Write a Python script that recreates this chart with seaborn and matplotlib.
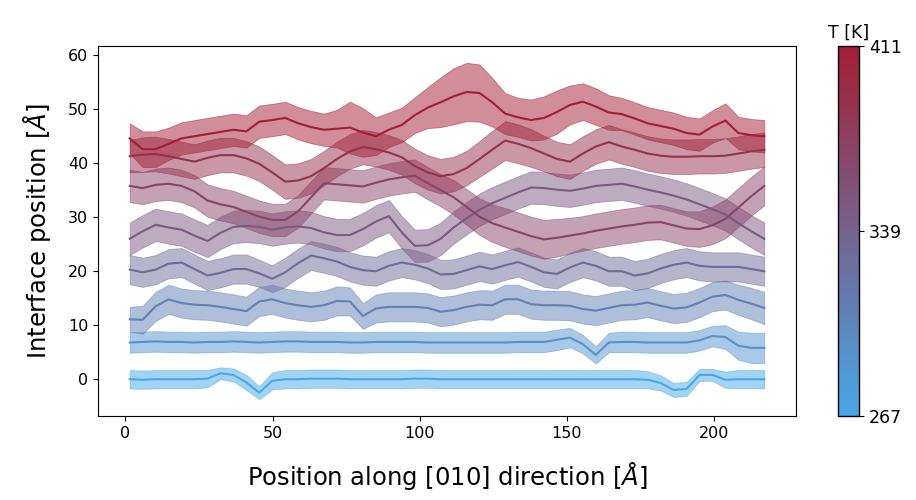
import numpy as np
import matplotlib
matplotlib.use("Agg")
import matplotlib.pyplot as plt
from matplotlib.colors import LinearSegmentedColormap, Normalize
from matplotlib.cm import ScalarMappable
import seaborn as sns

# ---------------- data ----------------
x_pos = [1.5, 5.9, 10.3, 14.7, 19.1, 23.5, 27.9, 32.3, 36.7, 41.1,
         45.5, 49.9, 54.3, 58.7, 63.1, 67.5, 71.9, 76.3, 80.7, 85.1,
         89.5, 93.9, 98.3, 102.7, 107.1, 111.5, 115.9, 120.3, 124.6, 129.0,
         133.4, 137.8, 142.2, 146.6, 151.0, 155.4, 159.8, 164.2, 168.6, 173.0,
         177.4, 181.8, 186.2, 190.6, 195.0, 199.4, 203.8, 208.2, 212.6, 217.0]

temperatures = [267, 288, 308, 329, 349, 370, 390, 411]

pos_267 = [0.0, -0.1, 0.0, 0.0, 0.0, 0.0, 0.1, 1.1, 0.8, -0.6,
           -2.5, -0.3, 0.0, 0.0, 0.1, 0.1, 0.1, 0.0, 0.0, 0.0,
           0.0, 0.0, 0.1, 0.1, 0.0, 0.0, 0.0, 0.0, 0.0, 0.0,
           0.0, 0.0, 0.0, 0.0, 0.0, 0.0, 0.0, 0.0, 0.0, 0.0,
           -0.1, -0.7, -2.0, -1.8, 0.8, 0.8, -0.1, 0.0, 0.0, 0.0]
sd_267 = [1.7, 1.7, 1.7, 1.7, 1.7, 1.7, 1.6, 1.1, 1.2, 1.4,
          1.2, 1.6, 1.7, 1.7, 1.7, 1.7, 1.7, 1.7, 1.7, 1.7,
          1.7, 1.7, 1.7, 1.7, 1.7, 1.7, 1.7, 1.7, 1.7, 1.7,
          1.7, 1.7, 1.7, 1.7, 1.7, 1.7, 1.7, 1.7, 1.7, 1.7,
          1.6, 1.4, 1.3, 1.3, 1.1, 1.1, 1.5, 1.7, 1.7, 1.7]

pos_288 = [6.8, 6.9, 7.0, 6.9, 6.9, 6.8, 6.9, 6.9, 7.0, 6.9,
           6.8, 6.9, 7.0, 7.0, 6.9, 6.9, 6.9, 6.8, 6.8, 6.9,
           6.9, 6.9, 6.9, 6.8, 6.8, 6.8, 6.8, 6.8, 6.8, 6.8,
           6.9, 6.9, 6.9, 7.3, 7.7, 6.5, 4.5, 6.8, 6.9, 6.9,
           6.8, 6.8, 6.8, 6.8, 7.2, 8.0, 7.8, 6.2, 5.8, 5.8]
sd_288 = [1.9, 1.9, 1.9, 1.9, 1.9, 1.9, 1.9, 1.9, 1.9, 1.9,
          1.9, 1.9, 1.9, 1.9, 1.9, 1.9, 1.9, 1.9, 1.9, 1.9,
          1.9, 1.9, 1.9, 1.9, 1.9, 1.9, 1.9, 1.9, 1.9, 1.9,
          1.9, 1.9, 1.9, 1.9, 1.8, 1.7, 1.6, 1.8, 1.9, 1.9,
          1.9, 1.9, 1.9, 1.9, 1.9, 1.9, 2.2, 2.6, 2.8, 2.8]

pos_308 = [11.1, 11.0, 13.5, 14.8, 14.1, 13.8, 13.7, 13.4, 13.0, 12.6,
           14.4, 14.8, 14.1, 13.7, 13.4, 13.7, 14.5, 14.4, 11.7, 13.1,
           13.4, 13.4, 13.4, 13.2, 12.5, 12.8, 13.4, 13.8, 13.7, 14.8,
           14.8, 13.9, 13.7, 13.7, 13.6, 13.0, 12.7, 13.2, 13.7, 13.8,
           14.2, 13.6, 13.1, 13.3, 14.2, 15.3, 15.6, 14.7, 14.0, 13.2]
sd_308 = [2.3, 2.6, 2.7, 2.7, 2.7, 2.7, 2.7, 2.7, 2.7, 2.7,
          2.7, 2.7, 2.7, 2.7, 2.7, 2.7, 2.7, 2.6, 2.4, 2.6,
          2.7, 2.7, 2.7, 2.7, 2.7, 2.7, 2.7, 2.7, 2.7, 2.7,
          2.7, 2.7, 2.7, 2.7, 2.7, 2.7, 2.7, 2.7, 2.7, 2.7,
          2.7, 2.7, 2.7, 2.7, 2.7, 2.7, 2.7, 2.8, 2.9, 3.0]

pos_329 = [20.3, 19.8, 20.3, 21.4, 21.6, 20.4, 19.2, 19.7, 20.4, 20.4,
           19.6, 18.6, 19.8, 21.5, 22.9, 22.4, 21.8, 20.8, 20.2, 20.0,
           21.0, 21.6, 21.2, 20.5, 19.4, 19.5, 20.2, 20.9, 20.4, 21.1,
           21.7, 20.8, 19.8, 19.5, 20.7, 21.6, 21.0, 20.0, 20.0, 19.2,
           19.6, 20.5, 21.2, 21.6, 21.0, 20.8, 20.8, 20.8, 20.4, 20.0]
sd_329 = [2.7, 2.7, 2.7, 2.7, 2.7, 2.7, 2.7, 2.7, 2.7, 2.7,
          2.5, 2.5, 2.7, 2.7, 2.7, 2.7, 2.7, 2.7, 2.7, 2.7,
          2.7, 2.7, 2.7, 2.7, 2.7, 2.7, 2.7, 2.7, 2.7, 2.7,
          2.7, 2.7, 2.7, 2.7, 2.7, 2.7, 2.7, 2.7, 2.7, 2.7,
          2.7, 2.7, 2.7, 2.7, 2.7, 2.7, 2.7, 2.7, 2.7, 2.7]

pos_349 = [26.0, 27.4, 28.6, 28.1, 27.7, 26.6, 25.6, 27.1, 28.2, 28.4,
           28.2, 27.7, 28.1, 28.3, 28.0, 27.2, 26.7, 26.7, 27.8, 29.2,
           30.2, 27.2, 24.7, 24.8, 26.0, 28.1, 29.8, 31.4, 32.6, 33.6,
           34.6, 35.5, 35.4, 35.1, 34.9, 35.3, 35.8, 36.0, 36.2, 35.7,
           35.1, 34.6, 34.0, 33.3, 32.4, 31.5, 30.5, 28.9, 27.4, 26.0]
sd_349 = [3.0, 3.0, 3.0, 3.0, 3.0, 3.0, 3.0, 3.0, 3.0, 3.0,
          3.0, 3.0, 3.0, 3.0, 3.0, 3.0, 3.0, 3.0, 3.0, 3.0,
          3.0, 3.0, 3.0, 3.0, 3.0, 3.0, 3.0, 3.0, 3.0, 3.0,
          3.0, 3.0, 3.0, 3.0, 3.0, 3.0, 3.0, 3.0, 3.0, 3.0,
          3.0, 3.0, 3.0, 3.0, 3.0, 3.0, 3.0, 3.0, 3.0, 3.0]

pos_370 = [35.8, 35.4, 36.0, 36.2, 35.8, 34.8, 33.1, 32.4, 31.9, 31.0,
           30.1, 29.5, 29.5, 31.1, 33.7, 36.3, 36.1, 35.9, 35.7, 36.4,
           37.0, 37.4, 37.7, 36.3, 35.0, 33.7, 31.9, 30.1, 28.9, 28.1,
           27.3, 26.5, 25.9, 26.2, 26.6, 27.0, 27.5, 27.9, 28.3, 28.6,
           29.0, 29.1, 28.5, 27.9, 27.8, 28.5, 29.7, 31.8, 33.9, 35.8]
sd_370 = [3.0, 3.0, 3.0, 3.0, 3.0, 3.0, 3.0, 3.0, 3.0, 3.0,
          3.0, 3.0, 3.0, 3.0, 3.0, 3.0, 3.0, 3.0, 3.0, 3.0,
          3.0, 3.0, 3.0, 3.0, 3.0, 3.2, 3.3, 3.4, 3.5, 3.6,
          3.6, 3.6, 3.6, 3.5, 3.3, 3.2, 3.2, 3.2, 3.2, 3.2,
          3.2, 3.2, 3.2, 3.2, 3.3, 3.5, 3.6, 3.6, 3.6, 3.6]

pos_390 = [41.3, 41.6, 41.7, 41.3, 40.8, 40.3, 41.0, 41.5, 41.5, 40.9,
           39.9, 38.3, 36.6, 36.8, 37.6, 39.1, 40.8, 42.2, 43.0, 42.6,
           42.0, 41.1, 39.5, 38.3, 37.6, 38.0, 39.1, 40.8, 42.5, 44.2,
           43.6, 42.8, 41.8, 40.8, 40.3, 41.8, 43.1, 43.9, 43.1, 42.5,
           41.8, 41.4, 41.2, 41.2, 41.3, 41.3, 41.4, 41.8, 42.2, 42.5]
sd_390 = [3.0, 3.2, 3.2, 3.2, 3.2, 3.2, 3.2, 3.2, 3.2, 3.2,
          3.2, 3.2, 3.2, 3.2, 3.2, 3.2, 3.2, 3.2, 3.2, 3.2,
          3.2, 3.2, 3.2, 3.2, 3.2, 3.2, 3.2, 3.3, 3.5, 3.6,
          3.6, 3.5, 3.3, 3.2, 3.2, 3.2, 3.2, 3.2, 3.2, 3.2,
          3.2, 3.2, 3.2, 3.2, 3.2, 3.2, 3.2, 3.2, 3.2, 3.2]

pos_411 = [44.6, 42.6, 42.6, 43.6, 44.6, 45.0, 45.4, 45.8, 46.2, 45.9,
           47.7, 48.0, 48.4, 47.4, 46.7, 46.2, 46.4, 46.6, 45.7, 45.0,
           46.2, 47.1, 48.9, 50.3, 51.3, 52.4, 53.2, 53.0, 51.3, 49.2,
           48.5, 48.0, 48.4, 49.5, 50.8, 51.4, 50.5, 49.4, 49.1, 48.3,
           47.4, 46.9, 46.4, 45.6, 45.3, 46.8, 47.9, 45.6, 45.2, 45.0]
sd_411 = [2.8, 3.3, 3.3, 3.0, 3.0, 3.0, 3.0, 3.0, 3.0, 3.0,
          3.0, 3.0, 3.0, 3.0, 3.0, 3.0, 3.5, 4.8, 4.5, 3.5,
          3.2, 3.2, 3.3, 3.8, 4.6, 5.2, 5.4, 5.3, 4.5, 3.8,
          3.6, 3.8, 4.0, 4.0, 3.6, 3.4, 3.4, 3.2, 3.0, 3.0,
          3.0, 3.0, 3.0, 3.0, 3.0, 3.0, 3.2, 3.0, 3.0, 3.0]

means = [pos_267, pos_288, pos_308, pos_329, pos_349, pos_370, pos_390, pos_411]
sds = [sd_267, sd_288, sd_308, sd_329, sd_349, sd_370, sd_390, sd_411]

# ---------------- figure ----------------
W, H = 916, 500
fig = plt.figure(figsize=(W / 100, H / 100), dpi=100)
ax = fig.add_axes([98 / W, 84 / H, 698 / W, 370 / H])
cax = fig.add_axes([838 / W, 84 / H, 21 / W, 370 / H])

cmap = LinearSegmentedColormap.from_list("tk", ["#47a8e8", "#a41d35"])
norm = Normalize(vmin=267, vmax=411)

for T, m, s in zip(temperatures, means, sds):
    c = cmap(norm(T))
    m = np.asarray(m)
    s = np.asarray(s)
    ax.fill_between(x_pos, m - s, m + s, color=c, alpha=0.5, linewidth=0.6)
    sns.lineplot(x=x_pos, y=m, color=c, ax=ax, linewidth=1.5)

ax.set_xticks([0, 50, 100, 150, 200])
ax.set_yticks([0, 10, 20, 30, 40, 50, 60])
ax.tick_params(labelsize=11.5)
ax.set_xlabel("Position along [010] direction [$\\AA$]", fontsize=17.5, labelpad=14)
ax.set_ylabel("Interface position [$\\AA$]", fontsize=17.5, labelpad=11)

sm = ScalarMappable(norm=norm, cmap=cmap)
sm.set_array([])
cb = fig.colorbar(sm, cax=cax, ticks=[267, 339, 411])
cb.ax.tick_params(labelsize=12.5)
cb.outline.set_linewidth(1.0)
cax.set_title("T [K]", fontsize=12.5, pad=6)

fig.savefig("out.png", dpi=100)
